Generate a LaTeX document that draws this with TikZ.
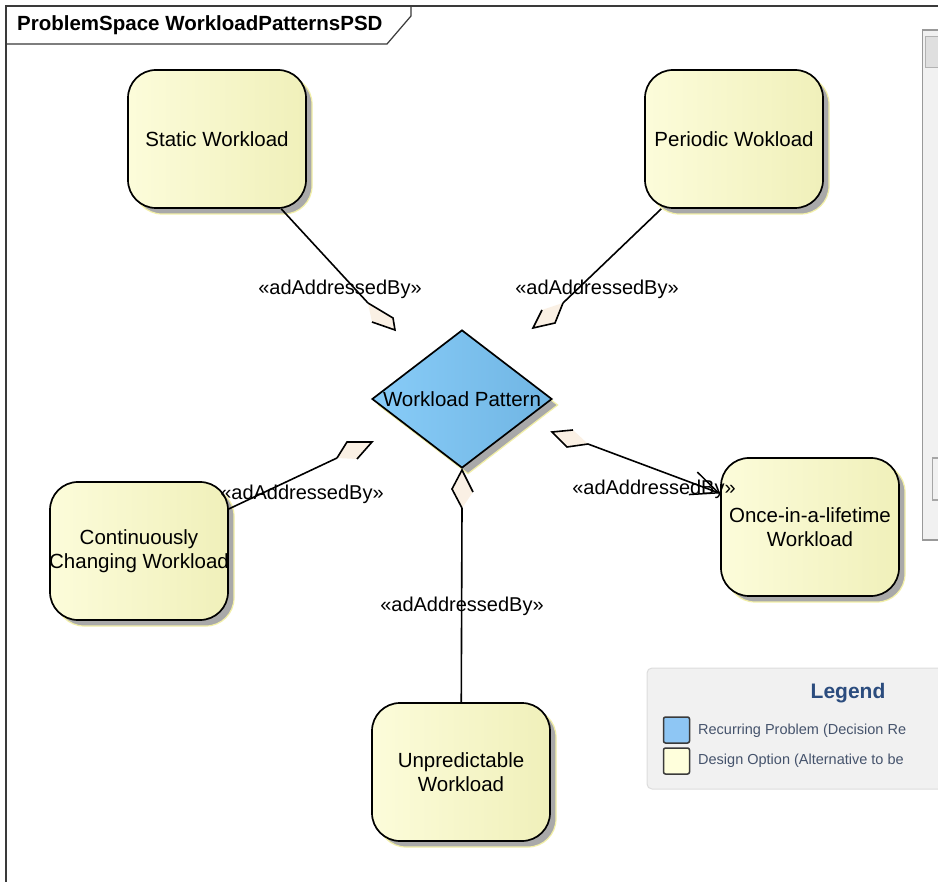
\documentclass[tikz,border=0pt]{standalone}
\usepackage{fontspec}
\setmainfont{Liberation Sans}
\usetikzlibrary{shapes.geometric,shadows,arrows.meta}

\definecolor{optleft}{HTML}{FCFCDA}
\definecolor{optmid}{HTML}{FFFFE6}
\definecolor{optright}{HTML}{F0F0BA}
\definecolor{probleft}{HTML}{88CCF8}
\definecolor{probmid}{HTML}{84C8F5}
\definecolor{probright}{HTML}{70B5E3}
\definecolor{shadowgray}{HTML}{A9A9A9}
\definecolor{shadowedge}{HTML}{F2EFA6}
\definecolor{aggfill}{HTML}{FAF0E4}
\definecolor{framegray}{HTML}{3A3A3A}
\definecolor{legendbg}{HTML}{F1F1F1}
\definecolor{legendline}{HTML}{DDDDDD}
\definecolor{legendhead}{HTML}{2B4C7E}
\definecolor{legendtext}{HTML}{45536C}
\definecolor{legendblue}{HTML}{8EC6F4}
\definecolor{legendyellow}{HTML}{FFFFDC}

\tikzset{
  nodetext/.style={font=\fontsize{20.5}{24}\selectfont, align=center},
  option/.style={nodetext, rectangle, rounded corners=28pt, draw=black,
    line width=1.7pt, minimum width=178pt, minimum height=138pt,
    left color=optleft, middle color=optmid, right color=optright,
    drop shadow={shadow xshift=6pt, shadow yshift=-6pt, fill=shadowgray,
      draw=shadowedge, line width=1.2pt, opacity=1}},
  problem/.style={diamond, draw=black, line width=1.7pt,
    minimum width=180pt, minimum height=138pt, inner sep=0pt,
    left color=probleft, middle color=probmid, right color=probright,
    drop shadow={shadow xshift=6pt, shadow yshift=-6pt, fill=shadowgray,
      draw=shadowedge, line width=1.2pt, opacity=1}},
  link/.style={draw=black, line width=1.6pt},
  aggedge/.style={draw=black, line width=1.6pt, line join=miter},
  stereo/.style={font=\fontsize{20}{22}\selectfont, inner sep=0pt},
  legendkey/.style={rectangle, rounded corners=2pt, line width=1.5pt,
    draw=framegray, minimum width=26pt, minimum height=26pt, inner sep=0pt},
  legenditem/.style={font=\fontsize{14.5}{16}\selectfont, text=legendtext,
    anchor=west, inner sep=0pt},
}

\begin{document}
\begin{tikzpicture}[x=1pt, y=-1pt]
\useasboundingbox (0,0) rectangle (938,882);
\fill[white] (0,0) rectangle (938,882);

% diagram frame and its title tab
\draw[framegray, line width=1.2pt] (6,882) -- (6,6) -- (938,6);
\draw[framegray, line width=1.2pt] (6,44) -- (387,44) -- (411,16) -- (411,6);
\node[font=\fontsize{20.5}{24}\selectfont\bfseries, anchor=west, inner sep=0pt]
  (title) at (17,25) {ProblemSpace WorkloadPatternsPSD};

% scroll bar at the right border
\fill[legendbg] (922.5,30) rectangle (938,540);
\draw[gray!80, line width=1.4pt] (938,30) -- (922.5,30) -- (922.5,540) -- (938,540);
\filldraw[fill=gray!25, draw=gray!60, line width=1pt] (925,37) rectangle (940,68);
\draw[gray!70, line width=1.2pt] (938,458) -- (932.5,458) -- (932.5,500) -- (938,500);

% recurring problem and design options
\node[problem] (wp) at (462,399) {};
\node[nodetext, inner sep=0pt] (wplabel) at (wp.center) {Workload Pattern};
\node[option] (static) at (217,139) {Static Workload};
\node[option] (periodic) at (734,139) {Periodic Wokload};
\node[option] (cont) at (139,551) {Continuously\\\makebox[0pt]{Changing Workload}};
\node[option] (once) at (810,527) {Once-in-a-lifetime\\Workload};
\node[option] (unpred) at (461,772) {Unpredictable\\Workload};

% aggregation diamonds next to the problem
\coordinate (q1) at (368,303); \coordinate (s1a) at (393,318);
\coordinate (p1) at (395,330); \coordinate (s1b) at (372,322);
\coordinate (q2) at (563,303); \coordinate (s2a) at (555,323);
\coordinate (p2) at (533,328); \coordinate (s2b) at (542,310);
\coordinate (q3) at (337,458); \coordinate (s3a) at (347,442);
\coordinate (p3) at (372,442); \coordinate (s3b) at (357,459);
\coordinate (q4) at (588,444); \coordinate (s4a) at (573,430);
\coordinate (p4) at (552,432); \coordinate (s4b) at (567,447);
\coordinate (q5) at (462,508); \coordinate (s5a) at (473,492);
\coordinate (p5) at (462,470); \coordinate (s5b) at (452,489);

% connectors
\draw[link] (static) -- (q1);
\draw[link] (periodic) -- (q2);
\draw[link] (cont) -- (q3);
\draw[link, -{Straight Barb[length=27pt, width=24pt, line width=1.5pt]}] (q4) -- (once);
\draw[link] (unpred) -- (q5);

\fill[aggfill] (q1) -- (s1a) -- (p1) -- (s1b) -- cycle;
\draw[aggedge] (q1) -- (s1a) -- (p1) -- (s1b);
\fill[aggfill] (q2) -- (s2a) -- (p2) -- (s2b) -- cycle;
\draw[aggedge] (q2) -- (s2a) -- (p2) -- (s2b);
\fill[aggfill] (q3) -- (s3a) -- (p3) -- (s3b) -- cycle;
\draw[aggedge] (q3) -- (s3a) -- (p3) -- (s3b);
\fill[aggfill] (q4) -- (s4a) -- (p4) -- (s4b) -- cycle;
\draw[aggedge] (s4a) -- (p4) -- (s4b) -- (q4);
\fill[aggfill] (q5) -- (s5a) -- (p5) -- (s5b) -- cycle;
\draw[aggedge] (s5a) -- (p5) -- (s5b) -- (q5);

% stereotype labels
\node[stereo] (l1) at (340,289) {«adAddressedBy»};
\node[stereo] (l2) at (597,289) {«adAddressedBy»};
\node[stereo] (l3) at (302,494) {«adAddressedBy»};
\node[stereo] (l4) at (654,489) {«adAddressedBy»};
\node[stereo] (l5) at (462,606) {«adAddressedBy»};

% legend
\begin{scope}
\clip (0,0) rectangle (938,882);
\filldraw[fill=legendbg, draw=legendline, line width=1pt, rounded corners=5pt]
  (647,668) rectangle (960,789);
\node[font=\fontsize{21}{24}\selectfont\bfseries, text=legendhead, inner sep=0pt]
  (lgtitle) at (848,693) {Legend};
\node[legendkey, fill=legendblue] (keyblue) at (676.5,730) {};
\node[legendkey, fill=legendyellow] (keyyellow) at (676.5,761) {};
\node[legenditem] (lgitem1) at (698,731) {Recurring Problem (Decision Re};
\node[legenditem] (lgitem2) at (698,761) {Design Option (Alternative to be};
\end{scope}
\end{tikzpicture}
\end{document}
